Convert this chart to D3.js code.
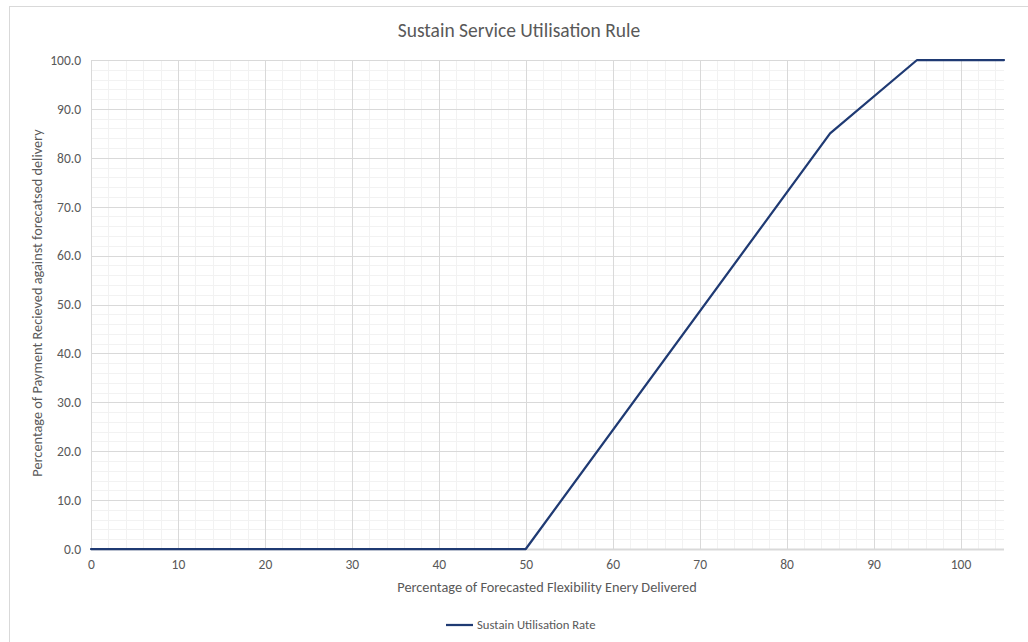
<!DOCTYPE html>
<html><head><meta charset="utf-8">
<script src="https://cdn.jsdelivr.net/npm/d3@7"></script>
<style>body{margin:0;background:#fff;} svg{display:block;font-family:Calibri,Carlito,Lato,"Open Sans","Liberation Sans",sans-serif;}</style>
</head><body>
<svg id="c" width="1028" height="642"></svg>
<script>
const xValues = [0, 50, 85, 95, 105];
const yValues = [0, 0, 85, 100, 100];
const xTicks = [0, 10, 20, 30, 40, 50, 60, 70, 80, 90, 100];
const yTicks = [0, 10, 20, 30, 40, 50, 60, 70, 80, 90, 100];
const title = "Sustain Service Utilisation Rule";
const xTitle = "Percentage of Forecasted Flexibility Enery Delivered";
const yTitle = "Percentage of Payment Recieved against forecatsed delivery";
const seriesName = "Sustain Utilisation Rate";

const FONT = "Calibri,Carlito,Lato,'Open Sans','Liberation Sans',sans-serif";
const svg = d3.select("#c");
const W = 1028, H = 642;
const m = {l: 91, r: 1004, t: 60, b: 549};
const x = d3.scaleLinear().domain([0, 105]).range([m.l, m.r]);
const y = d3.scaleLinear().domain([0, 100]).range([m.b, m.t]);

svg.append("rect").attr("x", 9.5).attr("y", 6.5).attr("width", W).attr("height", H)
  .attr("fill", "#fff").attr("stroke", "#d9d9d9").attr("stroke-width", 1);

const g = svg.append("g");
const minorX = d3.range(0, 105.01, 2).filter(v => v % 10 !== 0);
const minorY = d3.range(0, 100.01, 2).filter(v => v % 10 !== 0);
g.selectAll(".mx").data(minorX).join("line")
  .attr("x1", d => Math.round(x(d)) + 0.5).attr("x2", d => Math.round(x(d)) + 0.5)
  .attr("y1", m.t).attr("y2", m.b).attr("stroke", "#f2f2f2").attr("stroke-width", 1);
g.selectAll(".my").data(minorY).join("line")
  .attr("y1", d => Math.round(y(d)) + 0.5).attr("y2", d => Math.round(y(d)) + 0.5)
  .attr("x1", m.l).attr("x2", m.r).attr("stroke", "#f2f2f2").attr("stroke-width", 1);
g.selectAll(".Mx").data(xTicks).join("line")
  .attr("x1", d => Math.round(x(d)) + 0.5).attr("x2", d => Math.round(x(d)) + 0.5)
  .attr("y1", m.t).attr("y2", m.b).attr("stroke", "#d9d9d9").attr("stroke-width", 1);
g.selectAll(".My").data(yTicks).join("line")
  .attr("y1", d => Math.round(y(d)) + 0.5).attr("y2", d => Math.round(y(d)) + 0.5)
  .attr("x1", m.l).attr("x2", m.r).attr("stroke", "#d9d9d9").attr("stroke-width", 1);
g.append("line").attr("x1", m.l).attr("x2", m.r).attr("y1", m.b + 0.5).attr("y2", m.b + 0.5)
  .attr("stroke", "#d9d9d9").attr("stroke-width", 2);

const xAxis = svg.append("g").attr("transform", `translate(0,${m.b + 8})`)
  .call(d3.axisBottom(x).tickValues(xTicks).tickSize(0).tickPadding(2).tickFormat(d3.format("d")));
const yAxis = svg.append("g").attr("transform", `translate(${m.l - 10},0)`)
  .call(d3.axisLeft(y).tickValues(yTicks).tickSize(0).tickPadding(0).tickFormat(d3.format(".1f")));
[xAxis, yAxis].forEach(a => {
  a.select(".domain").remove();
  a.selectAll("text").attr("fill", "#595959").style("font-size", "13.5px").style("font-family", FONT);
});

const data = xValues.map((v, i) => [v, yValues[i]]);
svg.append("path").datum(data)
  .attr("d", d3.line().x(d => x(d[0])).y(d => y(d[1])))
  .attr("fill", "none").attr("stroke", "#1f3a73").attr("stroke-width", 2.25)
  .attr("stroke-linejoin", "round").attr("stroke-linecap", "round");

svg.append("text").attr("x", 519).attr("y", 37).attr("text-anchor", "middle")
  .attr("fill", "#595959").style("font-size", "19.5px").text(title);
svg.append("text").attr("x", 547).attr("y", 592).attr("text-anchor", "middle")
  .attr("fill", "#595959").style("font-size", "14.3px").text(xTitle);
svg.append("text").attr("transform", "translate(42,303) rotate(-90)").attr("text-anchor", "middle")
  .attr("fill", "#595959").style("font-size", "14.3px").text(yTitle);

svg.append("line").attr("x1", 446).attr("x2", 473).attr("y1", 625).attr("y2", 625)
  .attr("stroke", "#1f3a73").attr("stroke-width", 2.25);
svg.append("text").attr("x", 477).attr("y", 629).attr("fill", "#595959")
  .style("font-size", "12.7px").text(seriesName);
</script>
</body></html>
